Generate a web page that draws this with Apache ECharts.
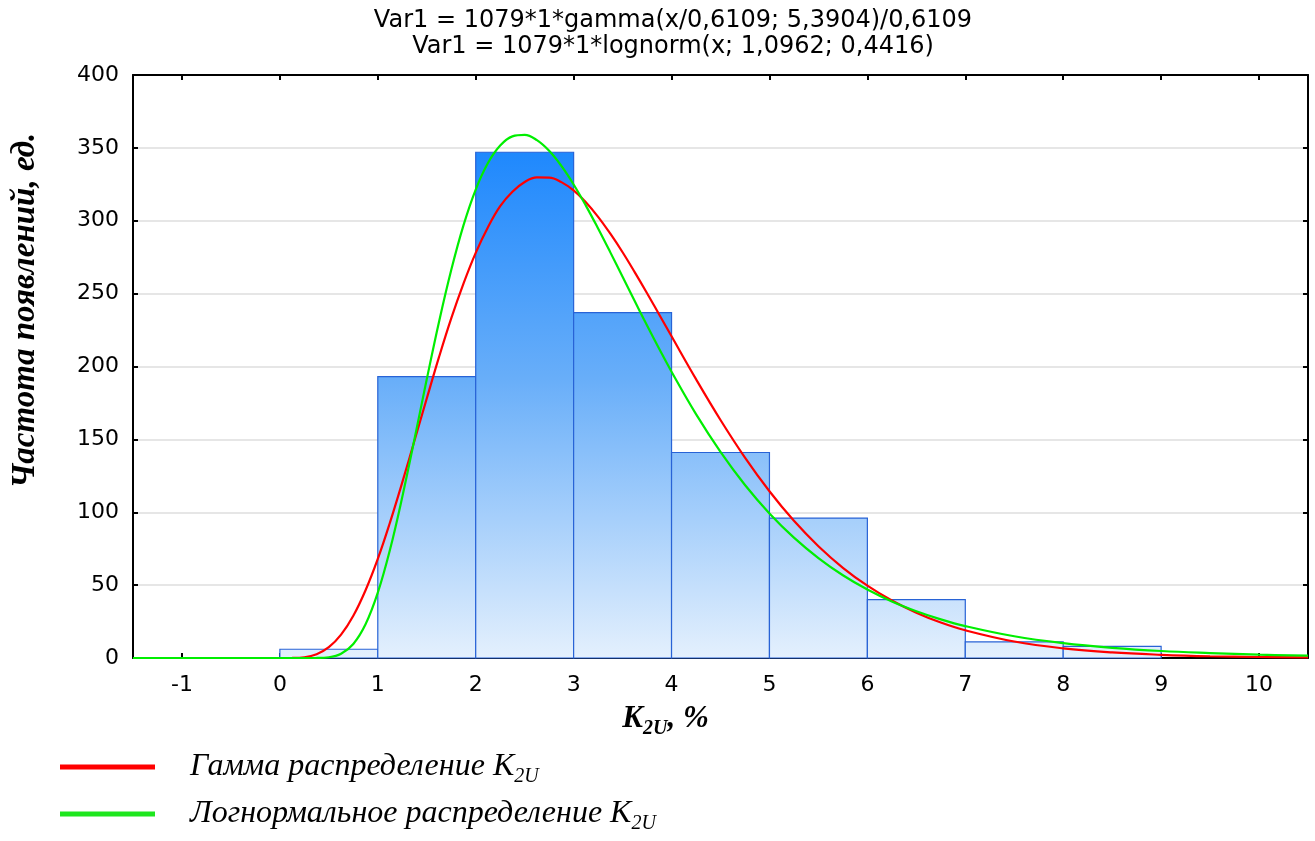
<!DOCTYPE html>
<html>
<head>
<meta charset="utf-8">
<script src="https://cdn.jsdelivr.net/npm/echarts@6/dist/echarts.min.js"></script>
<style>
html,body{margin:0;padding:0;background:#fff;}
#chart{width:1315px;height:841px;}
</style>
</head>
<body>
<div id="chart"></div>
<script>
// ---- data ----
const binStarts = [-1, 0, 1, 2, 3, 4, 5, 6, 7, 8];
const binWidth = 1;
const binCounts = [0, 6, 193, 347, 237, 141, 96, 40, 11, 8];
const curveX = [-1.5,-1,-0.5,0,0.125,0.25,0.375,0.5,0.625,0.75,0.875,1,1.125,1.25,1.375,1.5,1.625,1.75,1.875,2,2.125,2.25,2.375,2.5,2.625,2.75,2.875,3,3.125,3.25,3.375,3.5,3.625,3.75,3.875,4,4.25,4.5,4.75,5,5.25,5.5,5.75,6,6.25,6.5,6.75,7,7.5,8,8.5,9,9.5,10,10.5];
const gammaY = [0,0,0,0,0.03,0.5,2.6,7.4,16,29,46.5,68,93.1,120.5,149.2,178,206.4,233,256.9,278,295.6,310,319.9,326.6,329.7,329.6,326.5,320.8,312.7,302.7,291.1,278.4,264.6,250.3,235.5,220.7,191.3,163.3,137.5,114.4,94.1,76.7,61.9,49.6,39.4,31.1,24.3,19,11.3,6.6,3.8,2.2,1.2,0.7,0.4];
const lognY = [0,0,0,0,0,0,0.04,0.5,2.9,9.6,23.1,44.8,74.4,110.5,150.3,191.2,230.6,266.2,296.8,321.4,339.6,351.6,357.9,358.9,355.3,348,337.6,324.9,310.4,294.7,278.3,261.5,244.7,228.1,212,196.4,167.3,141.4,118.7,99.2,82.6,68.6,56.8,47,38.8,32.1,26.5,21.9,14.9,10.2,7,4.8,3.4,2.3,1.6];
const xTicks = [-1,0,1,2,3,4,5,6,7,8,9,10];
const titleLines = ['Var1 = 1079*1*gamma(x/0,6109; 5,3904)/0,6109', 'Var1 = 1079*1*lognorm(x; 1,0962; 0,4416)'];
const gammaName = 'Гамма распределение K2U';
const lognName = 'Логнормальное распределение K2U';
const yName = 'Частота появлений, ед.';

const binData = binStarts.map((s, i) => [s, s + binWidth, binCounts[i]]);
const gammaData = curveX.map((x, i) => [x, gammaY[i]]);
const lognData = curveX.map((x, i) => [x, lognY[i]]);

const chart = echarts.init(document.getElementById('chart'), null, {renderer: 'canvas'});

const barFill = new echarts.graphic.LinearGradient(0, 150, 0, 658, [
  {offset: 0, color: '#1e88fd'},
  {offset: 0.45, color: '#68aef9'},
  {offset: 1, color: '#e4f0fd'}
], true);

const tickFont = {fontFamily: 'DejaVu Sans', fontSize: 22, color: '#000'};

const option = {
  animation: false,
  backgroundColor: '#fff',
  title: {
    text: titleLines.join('\n'),
    left: 668,
    textAlign: 'center',
    top: 3,
    textStyle: {fontFamily: 'DejaVu Sans', fontSize: 24, fontWeight: 'normal', color: '#000', lineHeight: 26}
  },
  grid: {left: 133, right: 7, top: 75, bottom: 183, containLabel: false, outerBoundsMode: 'none'},
  legend: {
    orient: 'vertical',
    left: 55,
    top: 746,
    icon: 'rect',
    itemWidth: 95,
    itemHeight: 5,
    itemGap: 11,
    data: [gammaName, lognName],
    formatter: function (name) {
      return name.replace('K2U', 'K{s|2U}');
    },
    textStyle: {
      fontFamily: 'Liberation Serif', fontStyle: 'italic', fontSize: 32, color: '#000',
      padding: [0, 0, 0, 30],
      rich: {
        s: {fontFamily: 'Liberation Serif', fontStyle: 'italic', fontSize: 20, color: '#000', padding: [20, 0, 0, 0]}
      }
    }
  },
  xAxis: [{
    type: 'value', position: 'bottom', min: -1.5, max: 10.5,
    axisLine: {show: true, onZero: false, lineStyle: {color: '#000', width: 2}},
    axisTick: {show: true, inside: true, length: 5, customValues: xTicks, lineStyle: {color: '#000', width: 2}},
    axisLabel: {show: true, customValues: xTicks, margin: 16, ...tickFont},
    splitLine: {show: false},
    name: '{k|K}{s|2U}{k|, %}',
    nameLocation: 'middle',
    nameGap: 41,
    nameTextStyle: {
      padding: [0, 110, 0, 0],
      rich: {
        k: {fontFamily: 'Liberation Serif', fontStyle: 'italic', fontWeight: 'bold', fontSize: 31, color: '#000'},
        s: {fontFamily: 'Liberation Serif', fontStyle: 'italic', fontWeight: 'bold', fontSize: 20, color: '#000', padding: [20, 0, 0, 0]}
      }
    }
  }, {
    type: 'value', position: 'top', min: -1.5, max: 10.5,
    axisLine: {show: true, onZero: false, lineStyle: {color: '#000', width: 2}},
    axisTick: {show: true, inside: true, length: 5, customValues: xTicks, lineStyle: {color: '#000', width: 2}},
    axisLabel: {show: false},
    splitLine: {show: false}
  }],
  yAxis: [{
    type: 'value', position: 'left', min: 0, max: 400, interval: 50,
    axisLine: {show: true, onZero: false, lineStyle: {color: '#000', width: 2}},
    axisTick: {show: true, inside: true, length: 5, lineStyle: {color: '#000', width: 2}},
    axisLabel: {show: true, margin: 14, ...tickFont},
    splitLine: {show: true, lineStyle: {color: '#dedede', width: 1.5}},
    name: yName,
    nameLocation: 'middle',
    nameGap: 91,
    nameRotate: 90,
    nameTextStyle: {fontFamily: 'Liberation Serif', fontStyle: 'italic', fontWeight: 'bold', fontSize: 33, color: '#000', padding: [0, 0, 0, 112]}
  }, {
    type: 'value', position: 'right', min: 0, max: 400, interval: 50,
    axisLine: {show: true, onZero: false, lineStyle: {color: '#000', width: 2}},
    axisTick: {show: true, inside: true, length: 5, lineStyle: {color: '#000', width: 2}},
    axisLabel: {show: false},
    splitLine: {show: false}
  }],
  series: [{
    type: 'custom',
    name: 'bins',
    xAxisIndex: 0, yAxisIndex: 0,
    data: binData,
    encode: {x: [0, 1], y: 2},
    renderItem: function (params, api) {
      const p0 = api.coord([api.value(0), api.value(2)]);
      const p1 = api.coord([api.value(1), 0]);
      return {
        type: 'rect',
        shape: {x: p0[0], y: p0[1], width: p1[0] - p0[0], height: p1[1] - p0[1]},
        style: {fill: barFill, stroke: '#2863d6', lineWidth: 1.2}
      };
    },
    z: 2
  }, {
    type: 'line', name: gammaName, data: gammaData,
    xAxisIndex: 0, yAxisIndex: 0,
    smooth: 0.4, showSymbol: false, symbol: 'none',
    lineStyle: {color: '#ff0000', width: 2.2}, itemStyle: {color: '#ff0000'},
    clip: true, z: 4
  }, {
    type: 'line', name: lognName, data: lognData,
    xAxisIndex: 0, yAxisIndex: 0,
    smooth: 0.4, showSymbol: false, symbol: 'none',
    lineStyle: {color: '#00ee00', width: 2.2}, itemStyle: {color: '#1ee61e'},
    clip: true, z: 5
  }]
};
chart.setOption(option);
</script>
</body>
</html>
